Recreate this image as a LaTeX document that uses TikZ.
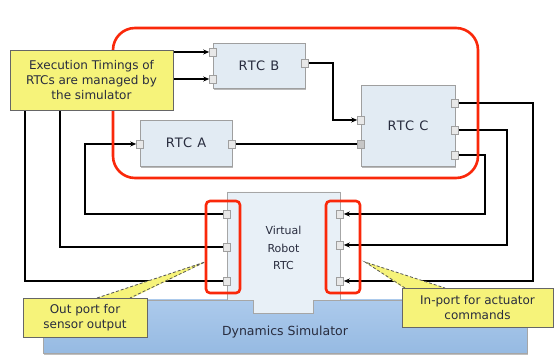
\documentclass[tikz,border=0pt]{standalone}
\usepackage{fontspec}
\setmainfont{DejaVu Sans}
\newfontfamily\rtcfont[LetterSpace=8]{DejaVu Sans}
\usetikzlibrary{arrows.meta,shadows}
\definecolor{calloutyellow}{RGB}{246,243,122}
\definecolor{rtcfill}{RGB}{226,235,243}
\definecolor{vrfill}{RGB}{232,240,247}
\definecolor{simtop}{RGB}{172,202,236}
\definecolor{simbot}{RGB}{150,186,226}
\definecolor{redline}{RGB}{250,40,10}
\definecolor{txt}{RGB}{40,44,62}
\begin{document}
\begin{tikzpicture}[x=1pt,y=-1pt,
  rtcbox/.style={draw=gray!75, fill=rtcfill, line width=0.8pt, inner sep=0pt,
    drop shadow={opacity=0.55, shadow xshift=0.6pt, shadow yshift=-1.6pt},
    text=txt, font=\rtcfont\fontsize{13}{15}\selectfont},
  callout/.style={draw=black!60, fill=calloutyellow, line width=0.8pt, inner sep=0pt,
    align=center, text=txt, font=\fontsize{12}{15}\selectfont,
    drop shadow={opacity=0.45, shadow xshift=0.8pt, shadow yshift=-1.2pt}},
  pointer/.style={fill=calloutyellow, draw=black!65, densely dashed, line width=0.8pt},
  wire/.style={line width=1.1pt, black},
  arr/.style={wire, -{Stealth[length=6pt,width=5pt]}},
  portbox/.style={draw=gray!75, fill=gray!18, line width=0.6pt, minimum width=7pt, minimum height=8pt, inner sep=0pt},
  redbox/.style={draw=redline, line width=2.6pt}
]
\useasboundingbox (0,0) rectangle (555,358);
\fill[white] (0,0) rectangle (555,358);

% Dynamics simulator
\node[draw=gray!70, top color=simtop, bottom color=simbot, line width=0.8pt,
  minimum width=484pt, minimum height=53pt, inner sep=0pt,
  drop shadow={opacity=0.5, shadow xshift=1pt, shadow yshift=-1.6pt}] (sim) at (285,326.5) {};
\node[text=txt, font=\fontsize{12.5}{15}\selectfont] (simlabel) at (285,332) {Dynamics Simulator};

% Virtual robot RTC
\draw[draw=gray!70, fill=vrfill, line width=0.8pt]
  (227,192) -- (340,192) -- (340,300) -- (313,300) -- (313,313) -- (253,313) -- (253,300) -- (227,300) -- cycle;
\node[align=center, text=txt, font=\fontsize{11}{17.5}\selectfont] (vr) at (283.5,248) {Virtual\\Robot\\RTC};

% RTC boxes
\node[rtcbox, minimum width=92pt, minimum height=45pt] (rtcB) at (259,65.5) {RTC B};
\node[rtcbox, minimum width=92pt, minimum height=46pt] (rtcA) at (186,143) {RTC A};
\node[rtcbox, minimum width=94pt, minimum height=81pt] (rtcC) at (408,125.5) {RTC C};

% ports
\node[portbox] (bIn1) at (213,52) {};
\node[portbox] (bIn2) at (213,79) {};
\node[portbox] (bOut) at (305,63) {};
\node[portbox] (aIn) at (140,144) {};
\node[portbox] (aOut) at (232,144) {};
\node[portbox] (cIn1) at (361,120) {};
\node[portbox, fill=gray!45] (cIn2) at (361,144) {};
\node[portbox] (cOut1) at (455,103) {};
\node[portbox] (cOut2) at (455,130) {};
\node[portbox] (cOut3) at (455,155) {};
\node[portbox] (vL1) at (227,214) {};
\node[portbox] (vL2) at (227,247) {};
\node[portbox] (vL3) at (227,281) {};
\node[portbox] (vR1) at (340,214) {};
\node[portbox] (vR2) at (340,245) {};
\node[portbox] (vR3) at (340,281) {};

% bend points
\coordinate (kBC) at (333,120);
\coordinate (kA) at (85,144);
\coordinate (kB2) at (60,79);
\coordinate (kB1) at (25,52);
\coordinate (k1) at (533,281);
\coordinate (k2) at (507,245);
\coordinate (k3) at (485,214);

% wires
\draw[arr] (bOut.east) -| (kBC) -- (cIn1.west);
\draw[wire] (aOut.east) -- (cIn2.west);
\draw[arr] (vL1.west) -| (kA) -- (aIn.west);
\draw[arr] (vL2.west) -| (kB2) -- (bIn2.west);
\draw[arr] (vL3.west) -| (kB1) -- (bIn1.west);
\draw[arr] (cOut1.east) -| (k1) -- (vR3.east);
\draw[arr] (cOut2.east) -| (k2) -- (vR2.east);
\draw[arr] (cOut3.east) -| (k3) -- (vR1.east);

% red frames
\draw[redbox, rounded corners=22pt] (113,28) rectangle (478,178);
\draw[redbox, rounded corners=4pt] (206,201) rectangle (240,293);
\draw[redbox, rounded corners=4pt] (326,201) rectangle (360,293);

% callouts
\node[callout, minimum width=163pt, minimum height=60pt] (timing) at (91.5,80)
  {Execution Timings of\\RTCs are managed by\\the simulator};
\fill[calloutyellow] (97,299) -- (205,262) -- (130,299) -- cycle;
\draw[pointer] (97,298) -- (205,262) -- (130,298);
\node[callout, minimum width=124pt, minimum height=39pt] (outcall) at (85,317.5)
  {Out port for\\sensor output};
\fill[calloutyellow] (405,289) -- (365,262) -- (445,289) -- cycle;
\draw[pointer] (405,288) -- (365,262) -- (445,288);
\node[callout, minimum width=151pt, minimum height=39pt] (incall) at (477.5,307.5)
  {In-port for actuator\\commands};
\end{tikzpicture}
\end{document}
